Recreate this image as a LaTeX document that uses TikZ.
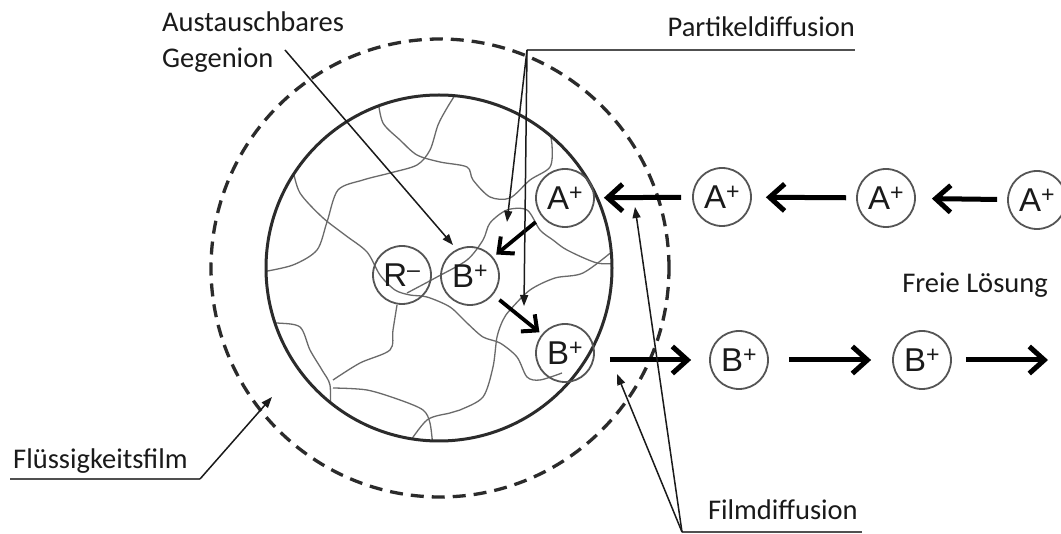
\documentclass[tikz,border=0pt]{standalone}
\usepackage{fontspec}
\setmainfont{Carlito}
\newfontfamily\ionfont{Liberation Sans}
\usetikzlibrary{arrows.meta}
\definecolor{ink}{HTML}{1A1A1A}
\definecolor{ioncol}{HTML}{555555}
\definecolor{linecol}{HTML}{505050}
\definecolor{netcol}{HTML}{6A6A6A}
\definecolor{ringcol}{HTML}{2B2B2B}
\begin{document}
\begin{tikzpicture}[x=1pt,y=-1pt,
  ionnode/.style={circle, draw=ioncol, line width=1.8pt, minimum size=58pt, inner sep=0pt,
    font=\ionfont\fontsize{33}{36}\selectfont, text=ink},
  lbltext/.style={font=\fontsize{28.5}{36}\selectfont, text=ink, inner sep=0pt},
  bigarr/.style={draw=black, line width=5pt, -{Straight Barb[length=15pt,width=27pt,line width=5pt]}},
  smallarr/.style={draw=black, line width=3.8pt, -{Straight Barb[length=12pt,width=22pt,line width=4pt]}},
  pointarr/.style={draw=ink, line width=1.5pt, -{Triangle[length=11pt,width=8pt]}},
  uline/.style={draw=linecol, line width=2.5pt},
  netline/.style={draw=netcol, line width=1.3pt},
]
\path[fill=white] (0,0) rectangle (1061,534);
\useasboundingbox (0,0) rectangle (1061,534);

% liquid film and bead
\coordinate (cen) at (439,268);
\draw[draw=ringcol, line width=3.3pt, dash pattern=on 13pt off 8pt] (440,268) circle (229pt);
\begin{scope}
  \clip (cen) circle (173pt);
  \draw[netline] plot[smooth, tension=0.5] coordinates {(262,272) (293,265) (317,250) (327,222) (338,190) (363,180) (390,173) (417,165) (430,150) (438,125) (447,108) (457,92)};
  \draw[netline] plot[smooth, tension=0.5] coordinates {(378,100) (383,123) (400,140) (417,155) (440,162) (467,167) (473,180) (490,197) (510,198) (530,180) (550,167) (552,145) (548,124)};
  \draw[netline] plot[smooth, tension=0.5] coordinates {(407,293) (437,277) (467,260) (483,240) (490,223) (507,210) (527,210) (540,230) (553,240) (567,250) (597,263) (618,263)};
  \draw[netline] plot[smooth, tension=0.5] coordinates {(293,170) (300,193) (322,217) (345,235) (367,252) (380,275) (395,290) (410,295) (427,297) (450,307) (467,323) (483,337) (500,343) (517,357) (527,377) (540,380) (562,373)};
  \draw[netline] plot[smooth, tension=0.5] coordinates {(614,250) (583,273) (555,278) (530,290) (510,310) (503,320) (497,337) (493,367) (483,397) (460,410) (450,413) (427,420) (407,446)};
  \draw[netline] plot[smooth, tension=0.5] coordinates {(260,323) (277,323) (300,327) (310,350) (322,370) (330,385) (330,410)};
  \draw[netline] plot[smooth, tension=0.5] coordinates {(333,388) (367,390) (400,400) (423,410) (430,423) (433,448)};
  \draw[netline] plot[smooth, tension=0.5] coordinates {(397,305) (393,330) (390,350) (360,363) (333,380)};
\end{scope}
\draw[draw=ringcol, line width=3pt] (cen) circle (173pt);

% ions
\node[ionnode] (Ain) at (565,198) {A\textsuperscript{+}};
\node[ionnode] (Bin) at (565,353) {B\textsuperscript{+}};
\node[ionnode] (Rm)  at (402,275) {R\textsuperscript{–}};
\node[ionnode] (Bc)  at (470,276) {B\textsuperscript{+}};
\node[ionnode] (A1)  at (722,197) {A\textsuperscript{+}};
\node[ionnode] (A2)  at (886,198) {A\textsuperscript{+}};
\node[ionnode] (A3)  at (1037,200) {A\textsuperscript{+}};
\node[ionnode] (B1)  at (739,360) {B\textsuperscript{+}};
\node[ionnode] (B2)  at (922,360) {B\textsuperscript{+}};
\coordinate (Bout) at (1048,360);

% ion flow arrows
\draw[bigarr, shorten <=11pt, shorten >=9pt] (A1) -- (Ain);
\draw[bigarr, shorten <=10pt, shorten >=14pt] (A2) -- (A1);
\draw[bigarr, shorten <=10pt, shorten >=16pt] (A3) -- (A2);
\draw[bigarr, shorten <=15pt, shorten >=18pt] (Bin.east |- B1.west) -- (B1.west);
\draw[bigarr, shorten <=20pt, shorten >=21pt] (B1) -- (B2);
\draw[bigarr, shorten <=14pt] (B2) -- (Bout);
\draw[smallarr, shorten <=8pt, shorten >=4pt] (Ain) -- (Bc);
\draw[smallarr, shorten <=8pt, shorten >=3pt] (Bc) -- (Bin);

% labels
\node[lbltext, anchor=base west, align=left] (gegen) at (162,68) {Austauschbares\\Gegenion};
\coordinate (gs) at (285,50);
\coordinate (gt) at (453,245);
\draw[pointarr] (gs) -- (gt);

\node[lbltext, anchor=base east] (partlbl) at (855,37) {Partikeldiffusion};
\coordinate (pc) at (527,50);
\coordinate (pe) at (855,50);
\coordinate (pt1) at (507,222);
\coordinate (pt2) at (524,306);
\draw[uline] (pc) -- (pe);
\draw[pointarr] (pc) -- (pt1);
\draw[pointarr] (pc) -- (pt2);

\node[lbltext, anchor=base east] (frei) at (1048,293) {Freie Lösung};

\node[lbltext, anchor=base west] (flue) at (13,469) {Flüssigkeitsfilm};
\coordinate (fs) at (10,479);
\coordinate (fc) at (200,479);
\coordinate (ft) at (272,397);
\draw[uline] (fs) -- (fc);
\draw[pointarr] (fc) -- (ft);

\node[lbltext, anchor=base east] (filmlbl) at (858,519) {Filmdiffusion};
\coordinate (mc) at (682,532);
\coordinate (me) at (862,532);
\coordinate (mt1) at (635,207);
\coordinate (mt2) at (617,374);
\draw[uline] (mc) -- (me);
\draw[pointarr] (mc) -- (mt1);
\draw[pointarr] (mc) -- (mt2);
\end{tikzpicture}
\end{document}
